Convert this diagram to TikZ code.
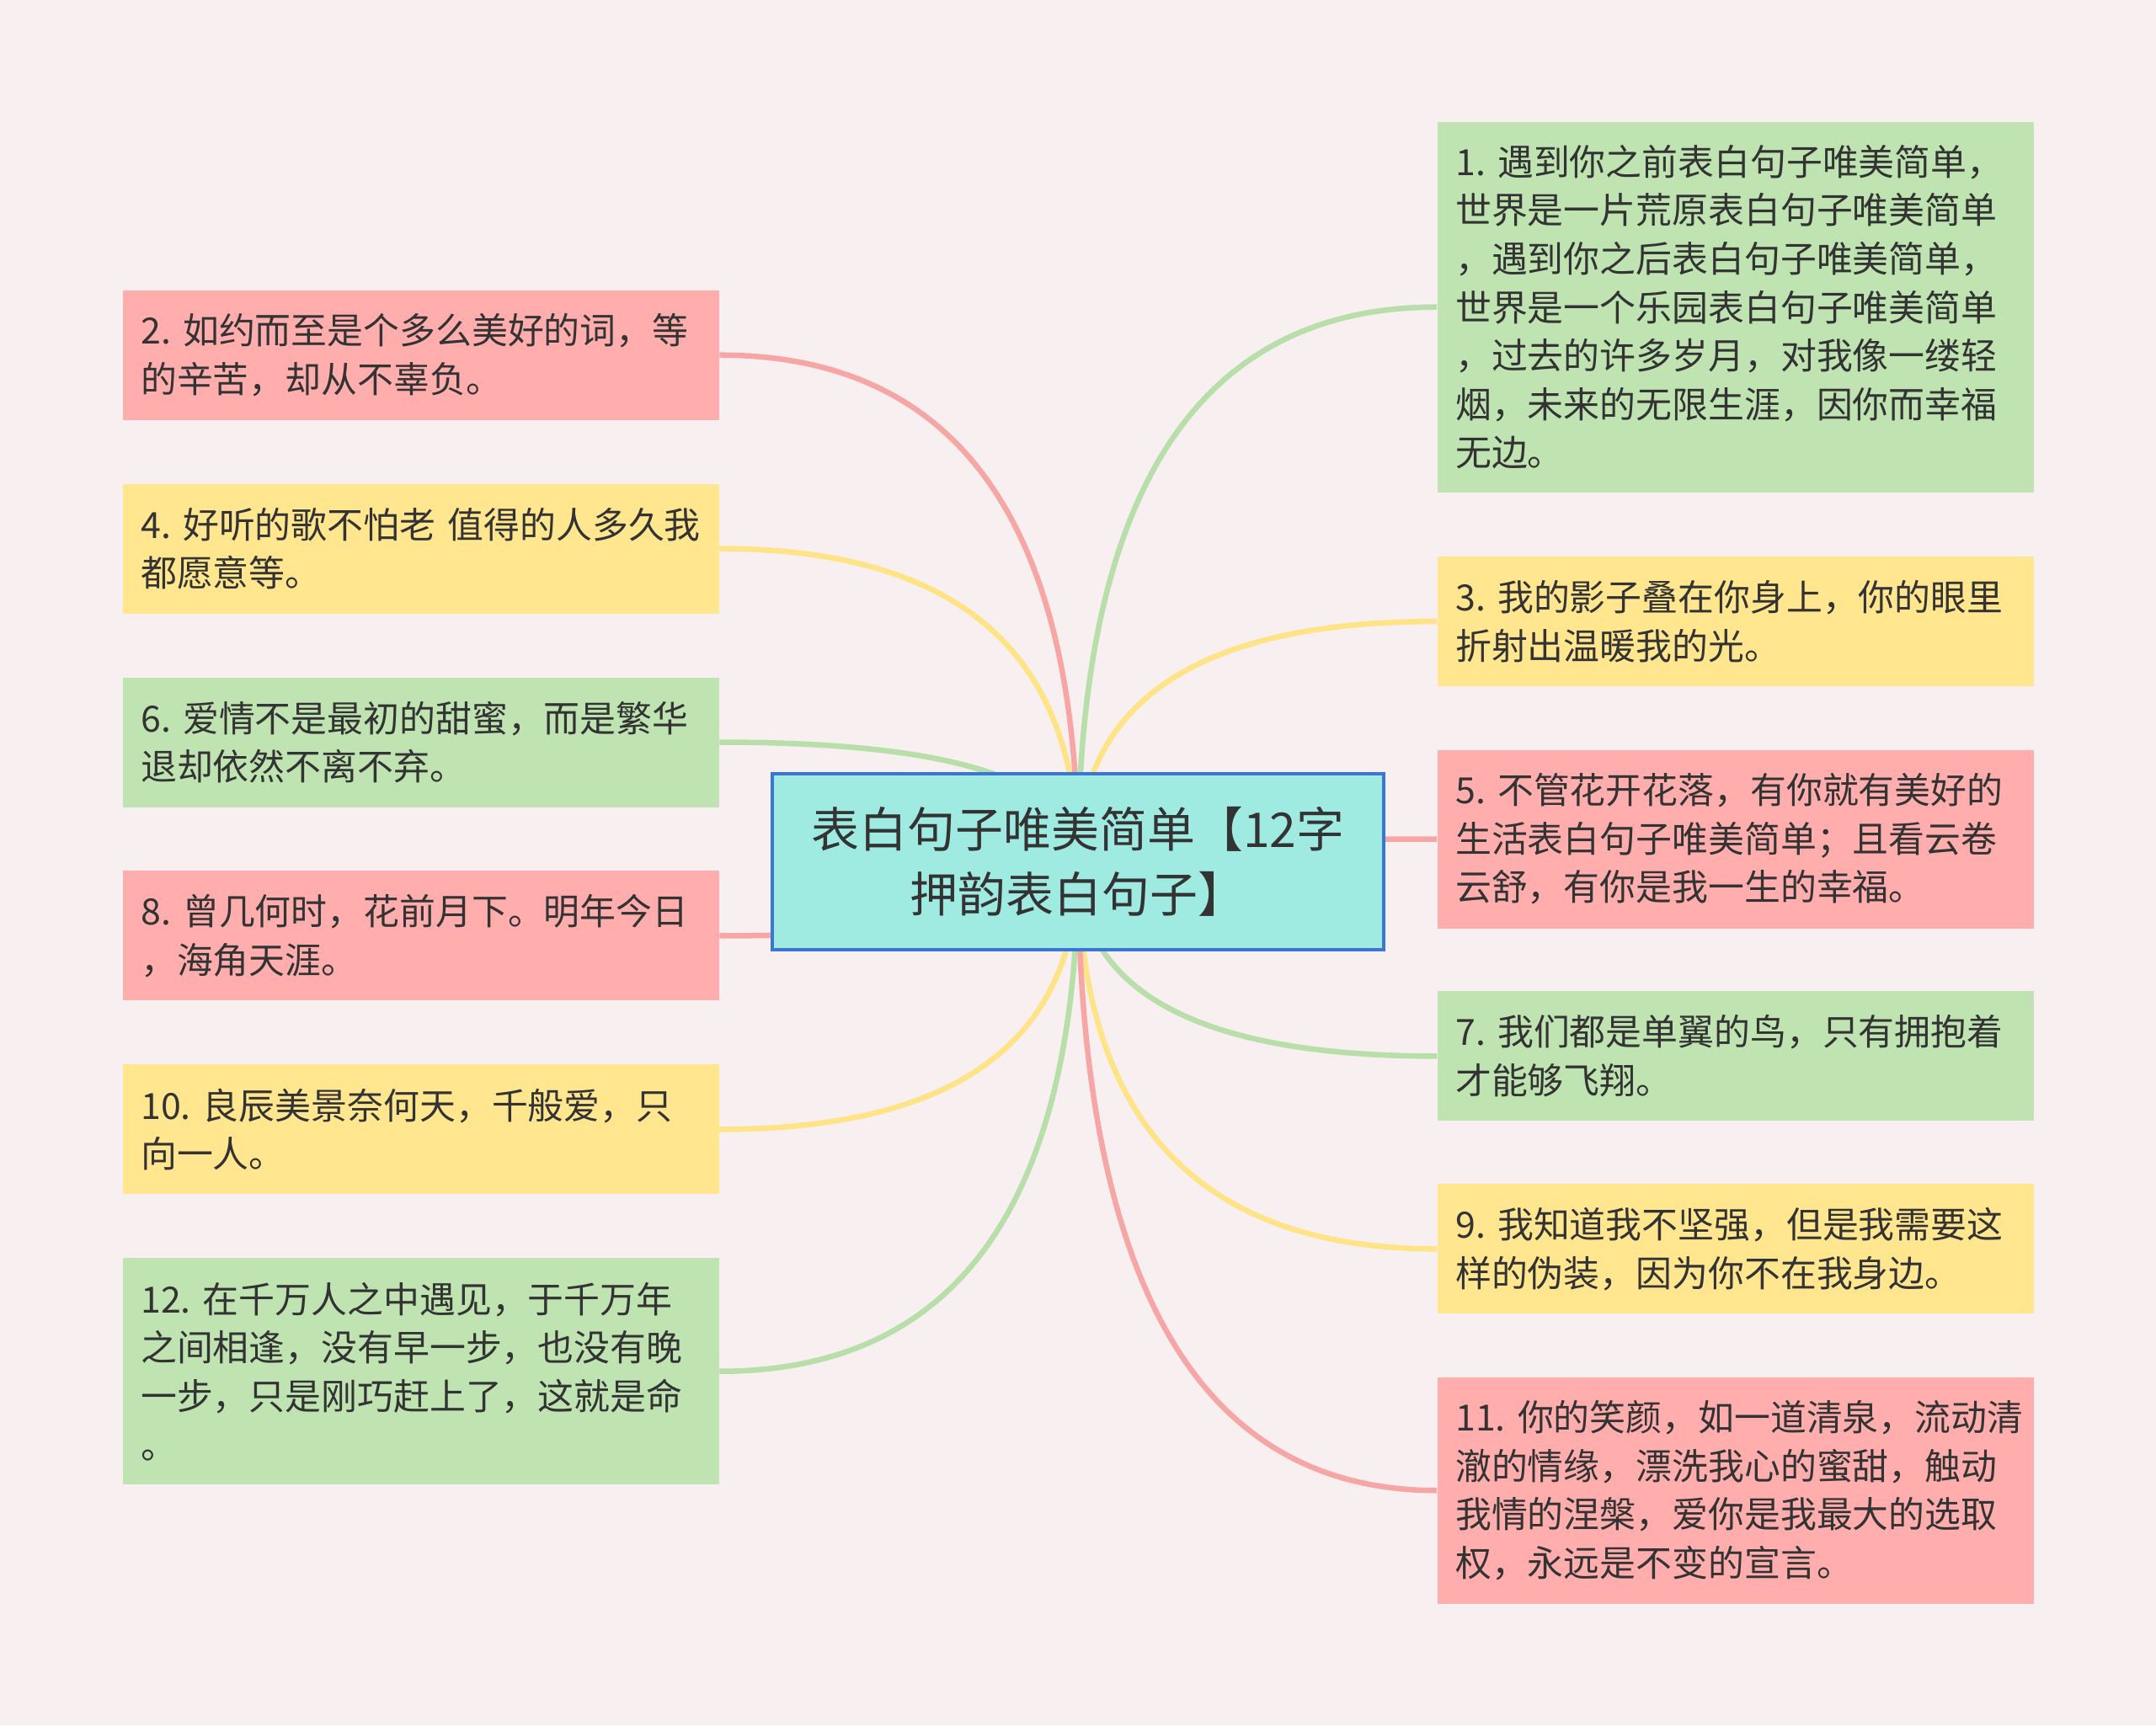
\documentclass[tikz,border=0pt]{standalone}
\usepackage{fontspec}
\setmainfont{Noto Sans CJK SC}
\frenchspacing
\usetikzlibrary{positioning, calc}
\definecolor{bgpink}{RGB}{247,239,240}
\definecolor{leafpink}{RGB}{255,173,173}
\definecolor{leafyellow}{RGB}{255,230,143}
\definecolor{leafgreen}{RGB}{191,228,178}
\definecolor{linkpink}{RGB}{247,166,166}
\definecolor{linkyellow}{RGB}{255,227,135}
\definecolor{linkgreen}{RGB}{184,222,170}
\definecolor{rootcyan}{RGB}{160,235,225}
\definecolor{rootblue}{RGB}{58,118,214}
\definecolor{textgray}{RGB}{51,51,51}

\tikzset{
  leaf/.style={rectangle, anchor=north west, inner xsep=0.21cm, inner ysep=0.1cm,
    text width=6.65cm, minimum width=7.08cm, align=left, text=textgray,
    font={\fontsize{12.2pt}{16.4pt}\selectfont}},
  rootbox/.style={rectangle, draw=rootblue, line width=1pt, fill=rootcyan,
    minimum width=7.26cm, minimum height=2.09cm, align=center, text=textgray,
    font={\fontsize{16.2pt}{21.9pt}\selectfont}},
  link/.style={line width=0.065cm}
}

\begin{document}
\begin{tikzpicture}
\useasboundingbox (0,0) rectangle (25.6,-20.49);
\fill[bgpink] (0,0) rectangle (25.6,-20.49);
\coordinate (hub) at (12.80,-10.235);

% left column
\node[leaf, fill=leafpink, minimum height=1.54cm] (b2) at (1.45,-3.44)
  {2.~如约而至是个多么美好的词，等\\的辛苦，却从不辜负。};
\node[leaf, fill=leafyellow, minimum height=1.54cm, below=0.745cm of b2] (b4)
  {4.~好听的歌不怕老~值得的人多久我\\都愿意等。};
\node[leaf, fill=leafgreen, minimum height=1.54cm, below=0.745cm of b4] (b6)
  {6.~爱情不是最初的甜蜜，而是繁华\\退却依然不离不弃。};
\node[leaf, fill=leafpink, minimum height=1.54cm, below=0.745cm of b6] (b8)
  {8.~曾几何时，花前月下。明年今日\\，海角天涯。};
\node[leaf, fill=leafyellow, minimum height=1.54cm, below=0.745cm of b8] (b10)
  {10.~良辰美景奈何天，千般爱，只\\向一人。};
\node[leaf, fill=leafgreen, minimum height=2.69cm, below=0.745cm of b10] (b12)
  {12.~在千万人之中遇见，于千万年\\之间相逢，没有早一步，也没有晚\\一步，只是刚巧赶上了，这就是命\\。};

% right column
\node[leaf, fill=leafgreen, minimum height=4.40cm] (b1) at (17.06,-1.44)
  {1.~遇到你之前表白句子唯美简单，\\世界是一片荒原表白句子唯美简单\\，遇到你之后表白句子唯美简单，\\世界是一个乐园表白句子唯美简单\\，过去的许多岁月，对我像一缕轻\\烟，未来的无限生涯，因你而幸福\\无边。};
\node[leaf, fill=leafyellow, minimum height=1.54cm, below=0.75cm of b1] (b3)
  {3.~我的影子叠在你身上，你的眼里\\折射出温暖我的光。};
\node[leaf, fill=leafpink, minimum height=2.12cm, below=0.74cm of b3] (b5)
  {5.~不管花开花落，有你就有美好的\\生活表白句子唯美简单；且看云卷\\云舒，有你是我一生的幸福。};
\node[leaf, fill=leafgreen, minimum height=1.54cm, below=0.735cm of b5] (b7)
  {7.~我们都是单翼的鸟，只有拥抱着\\才能够飞翔。};
\node[leaf, fill=leafyellow, minimum height=1.54cm, below=0.735cm of b7] (b9)
  {9.~我知道我不坚强，但是我需要这\\样的伪装，因为你不在我身边。};
\node[leaf, fill=leafpink, minimum height=2.69cm, below=0.74cm of b9] (b11)
  {11.~你的笑颜，如一道清泉，流动清\\澈的情缘，漂洗我心的蜜甜，触动\\我情的涅槃，爱你是我最大的选取\\权，永远是不变的宣言。};

% links, root drawn on top
\foreach \b/\s/\c in {b1/west/linkgreen, b3/west/linkyellow, b5/west/linkpink,
    b7/west/linkgreen, b9/west/linkyellow, b11/west/linkpink,
    b2/east/linkpink, b4/east/linkyellow, b6/east/linkgreen,
    b8/east/linkpink, b10/east/linkyellow, b12/east/linkgreen}{
  \coordinate (k) at (\b.\s -| hub);
  \draw[link, \c] (\b.\s) .. controls ($(\b.\s)!2/3!(k)$) and ($(hub)!2/3!(k)$) .. (hub);
}

\node[rootbox] (root) at (hub) {表白句子唯美简单【12字\\押韵表白句子】};
\end{tikzpicture}
\end{document}
